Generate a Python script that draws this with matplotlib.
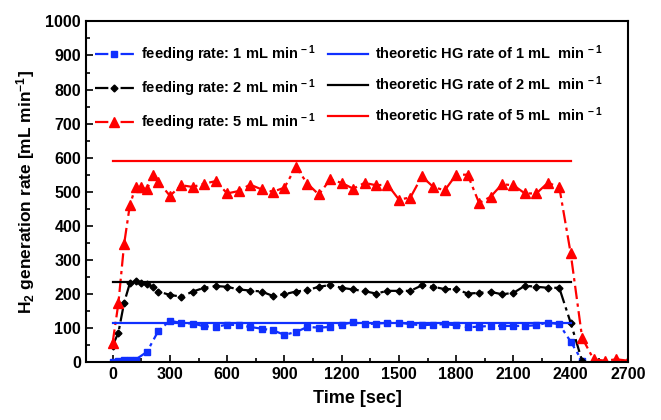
import matplotlib
matplotlib.use("Agg")
from matplotlib import pyplot as plt
from matplotlib.ticker import MultipleLocator

plt.rcParams['font.family'] = ['Liberation Sans', 'DejaVu Sans']
plt.rcParams['mathtext.fontset'] = 'custom'
plt.rcParams['mathtext.rm'] = 'Liberation Sans:bold'
plt.rcParams['mathtext.default'] = 'rm'

# sample times (sec)
t_blue = [0, 30, 60, 90, 120, 180, 240, 300, 360, 420, 480, 540, 600, 660, 720,
          780, 840, 900, 960, 1020, 1080, 1140, 1200, 1260, 1320, 1380, 1440,
          1500, 1560, 1620, 1680, 1740, 1800, 1860, 1920, 1980, 2040, 2100,
          2160, 2220, 2280, 2340, 2400, 2460]
rate_1 = [0, 3, 5, 6, 7, 30, 92, 121, 115, 113, 105, 103, 110, 108, 103,
          98, 93, 80, 88, 103, 101, 103, 110, 117, 111, 113, 115,
          116, 111, 108, 110, 111, 108, 102, 104, 106, 106, 106,
          106, 108, 116, 111, 60, 3]

t_black = [0, 30, 60, 90, 120, 150, 180, 210, 240, 300, 360, 420, 480, 540,
           600, 660, 720, 780, 840, 900, 960, 1020, 1080, 1140, 1200, 1260,
           1320, 1380, 1440, 1500, 1560, 1620, 1680, 1740, 1800, 1860, 1920,
           1980, 2040, 2100, 2160, 2220, 2280, 2340, 2400, 2460]
rate_2 = [48, 86, 174, 231, 237, 231, 229, 221, 207, 197, 192, 207, 218, 223,
          221, 213, 210, 207, 194, 199, 207, 211, 221, 226, 218, 213,
          208, 201, 209, 209, 209, 225, 221, 214, 214, 201, 203,
          206, 199, 203, 224, 221, 218, 218, 115, 3]

t_red = [0, 30, 60, 90, 120, 150, 180, 210, 240, 300, 360, 420, 480, 540,
         600, 660, 720, 780, 840, 900, 960, 1020, 1080, 1140, 1200, 1260,
         1320, 1380, 1440, 1500, 1560, 1620, 1680, 1740, 1800, 1860, 1920,
         1980, 2040, 2100, 2160, 2220, 2280, 2340, 2400, 2460, 2520, 2580,
         2640, 2700]
rate_5 = [57, 172, 346, 460, 514, 514, 507, 548, 529, 488, 519, 514, 524, 531,
          495, 502, 521, 507, 500, 512, 573, 524, 492, 536, 526, 509,
          526, 519, 521, 477, 483, 545, 514, 504, 550, 550, 467,
          485, 522, 519, 495, 495, 526, 514, 319, 71, 8, 4, 8, 4]

# theoretic HG rates
t_theory = [0, 2400]
theory = {1: 115, 2: 234, 5: 590}

fig = plt.figure(figsize=(6.61, 4.2), dpi=100)
ax = fig.add_axes([0.130, 0.138, 0.820, 0.811])

dash = (0, (6, 2, 1.5, 2))
ax.plot(t_blue, rate_1, color='#1030ff', linestyle=dash, linewidth=1.6,
        marker='s', markersize=4.5, label=r'feeding rate: 1 mL min$^{\,-1}$')
ax.plot(t_black, rate_2, color='black', linestyle=dash, linewidth=1.6,
        marker='D', markersize=3.5, label=r'feeding rate: 2 mL min$^{\,-1}$')
ax.plot(t_red, rate_5, color='red', linestyle=dash, linewidth=1.6,
        marker='^', markersize=6.5, label=r'feeding rate: 5 mL min$^{\,-1}$')
ax.plot(t_theory, [theory[1]] * 2, color='#1030ff', linewidth=1.6,
        label=r'theoretic HG rate of 1 mL  min$^{\,-1}$')
ax.plot(t_theory, [theory[2]] * 2, color='black', linewidth=1.6,
        label=r'theoretic HG rate of 2 mL  min$^{\,-1}$')
ax.plot(t_theory, [theory[5]] * 2, color='red', linewidth=1.6,
        label=r'theoretic HG rate of 5 mL  min$^{\,-1}$')

ax.set_xlim(-140, 2700)
ax.set_ylim(0, 1000)
ax.xaxis.set_major_locator(MultipleLocator(300))
ax.xaxis.set_minor_locator(MultipleLocator(150))
ax.yaxis.set_major_locator(MultipleLocator(100))
ax.yaxis.set_minor_locator(MultipleLocator(50))
ax.tick_params(which='both', direction='in', width=1.2, labelsize=11.5)
ax.tick_params(which='major', length=5)
ax.tick_params(which='minor', length=3)
for lbl in ax.get_xticklabels() + ax.get_yticklabels():
    lbl.set_fontweight('bold')
for sp in ax.spines.values():
    sp.set_linewidth(1.5)

ax.set_xlabel('Time [sec]', fontsize=13, fontweight='bold', labelpad=6)
ax.set_ylabel(r'H$_2$ generation rate [mL min$^{-1}$]', fontsize=12.5,
              fontweight='bold', labelpad=6)

ax.legend(loc='upper left', ncol=2, frameon=False,
          prop={'weight': 'bold', 'size': 10.5},
          bbox_to_anchor=(0.0, 0.96), handlelength=2.7, handletextpad=0.5,
          columnspacing=0.8, labelspacing=0.85, borderaxespad=0.2)

fig.savefig('out.png', dpi=100)
